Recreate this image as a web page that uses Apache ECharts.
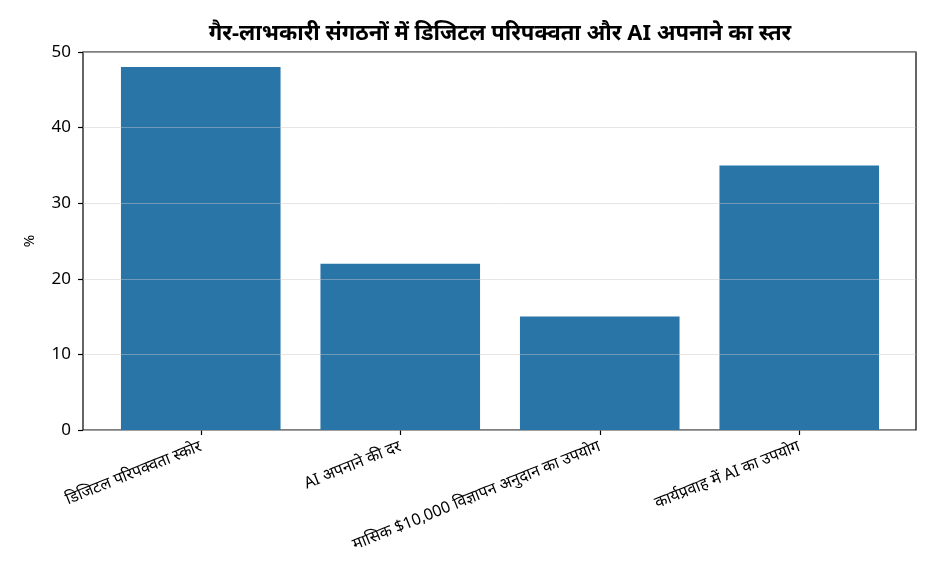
<!DOCTYPE html>
<html>
<head>
<meta charset="utf-8">
<script src="https://cdn.jsdelivr.net/npm/echarts@6/dist/echarts.min.js"></script>
<style>
  html, body { margin: 0; padding: 0; background: #fff; }
  #chart { width: 936px; height: 572px; }
</style>
</head>
<body>
<div id="chart"></div>
<script>
const titleText = "गैर-लाभकारी संगठनों में डिजिटल परिपक्वता और AI अपनाने का स्तर";
const categories = [
  "डिजिटल परिपक्वता स्कोर",
  "AI अपनाने की दर",
  "मासिक $10,000 विज्ञापन अनुदान का उपयोग",
  "कार्यप्रवाह में AI का उपयोग"
];
const values = [48, 22, 15, 35];
const yTicks = [0, 10, 20, 30, 40, 50];

const font = "'Noto Sans', 'Noto Sans Devanagari', 'DejaVu Sans', sans-serif";

const chart = echarts.init(document.getElementById("chart"), null, { renderer: "canvas" });
chart.setOption({
  animation: false,
  backgroundColor: "#ffffff",
  title: {
    text: titleText,
    left: 495,
    top: 18,
    textAlign: "center",
    textStyle: { fontFamily: font, fontSize: 22, fontWeight: "bold", color: "#000" }
  },
  grid: [
    // bars sit here, so the band width matches the padded frame
    { left: 101, right: 37, top: 52, bottom: 142 },
    // frame, y scale and gridlines
    { left: 83, right: 20, top: 52, bottom: 142, show: true, borderColor: "#000", borderWidth: 1.2, backgroundColor: "transparent", z: 0 }
  ],
  xAxis: [
    {
      type: "category",
      gridIndex: 0,
      data: categories,
      axisLine: { show: false },
      axisTick: { show: true, alignWithLabel: true, length: 5, lineStyle: { color: "#000", width: 1.2 } },
      axisLabel: { rotate: 22, interval: 0, margin: 16, fontFamily: font, fontSize: 16, color: "#000" }
    },
    { type: "value", gridIndex: 1, show: false, min: 0, max: 1 }
  ],
  yAxis: [
    { type: "value", gridIndex: 0, min: 0, max: 50, show: false },
    {
      type: "value",
      gridIndex: 1,
      min: 0,
      max: 50,
      interval: 10,
      z: 5,
      name: "%",
      nameLocation: "middle",
      nameGap: 46,
      nameTextStyle: { fontFamily: font, fontSize: 15, color: "#000" },
      axisLine: { show: false },
      axisTick: { show: true, length: 5, lineStyle: { color: "#000", width: 1.2 } },
      axisLabel: {
        fontFamily: font, fontSize: 17, color: "#000", margin: 12,
        formatter: v => yTicks.includes(v) ? String(v) : ""
      },
      splitLine: { show: true, lineStyle: { color: "rgba(200,200,200,0.45)", width: 1 } }
    }
  ],
  series: [
    {
      type: "bar",
      xAxisIndex: 0,
      yAxisIndex: 0,
      data: values,
      barWidth: "80%",
      itemStyle: { color: "#2975a7" }
    }
  ]
});
</script>
</body>
</html>
